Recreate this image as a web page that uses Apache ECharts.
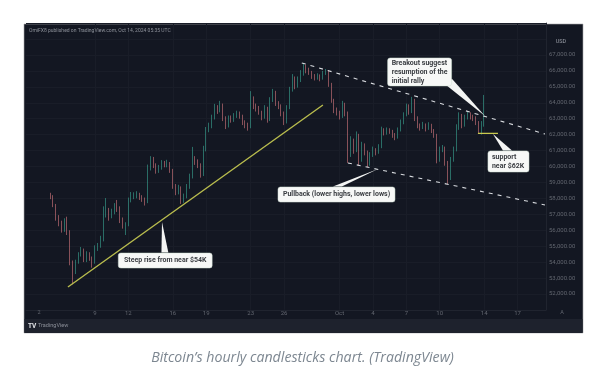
<!DOCTYPE html>
<html>
<head>
<meta charset="utf-8">
<title>Bitcoin hourly candlesticks</title>
<script src="https://cdn.jsdelivr.net/npm/echarts@6/dist/echarts.min.js"></script>
<style>
  html, body { margin: 0; background: #fff; }
  #chart { position: absolute; left: 0; top: 0; width: 605px; height: 381px; filter: blur(0.5px); }
  #caption {
    position: absolute; left: 0; top: 347px; width: 605px; text-align: center;
    font: italic 14.2px "Open Sans", sans-serif; color: #7d8791;
  }
</style>
</head>
<body>
<div id="chart"></div>
<div id="caption">Bitcoin’s hourly candlesticks chart. (TradingView)</div>
<script>
// x axis is in days counted from 1 Sep 2024 (Oct 1 = 31)
const firstCandleDay = 5
const candleStep = 0.25

const closes = [
  58150, 57590, 56770, 56390, 56010, 56520, 55890, 54000, 53380, 54000, 54450, 54760, 54130, 54510, 54260, 54000,
  54880, 55010, 55390, 56950, 57140, 56890, 57140, 57520, 57400, 56640, 56330, 56330, 57900, 58150, 58150, 58280,
  58090, 57960, 57770, 59900, 60530, 60100, 59720, 59910, 60220, 60100, 60220, 59780, 58780, 58400, 58650, 57840,
  58090, 58710, 59340, 60410, 60340, 60100, 59530, 61040, 62290, 62540, 63050, 63670, 63550, 63860, 63050, 62540,
  63050, 62920, 63170, 63300, 63170, 62790, 62600, 62480, 64300, 63800, 63670, 63420, 63110, 63670, 62920, 64180,
  64680, 63990, 63800, 63360, 62790, 63670, 64800, 65550, 65050, 65430, 65810, 66310, 66060, 65930, 65680, 65550,
  65680, 65550, 65870, 65990, 65180, 64180, 63550, 63420, 63170, 63920, 63360, 60720, 61660, 61040, 61980, 60410,
  61350, 60910, 60160, 60720, 61040, 60910, 61220, 62290, 62160, 62290, 62230, 61980, 61850, 62290, 62730, 63230,
  63800, 63420, 64180, 63050, 62600, 62480, 62600, 62420, 62600, 62290, 61980, 60410, 61040, 61160, 60280, 59280,
  60410, 61040, 62420, 63230, 62600, 63050, 63300, 63110, 63050, 62790, 62420, 62600, 63900,
]
const highs = [
  58350, 58200, 57650, 56950, 56600, 56750, 56850, 56000, 54100, 54150, 54620, 54950, 54850, 54680, 54620, 54350,
  55050, 55200, 55650, 57500, 58020, 57400, 57350, 57700, 57900, 57500, 56800, 56500, 58050, 58400, 58380, 58450,
  58350, 58200, 58050, 60120, 60650, 60600, 60200, 60100, 60400, 60350, 60420, 60280, 59850, 58900, 58850, 58750,
  58300, 58900, 59550, 61230, 60650, 60450, 60200, 61300, 62480, 62750, 63250, 63930, 63850, 64120, 63950, 63150,
  63200, 63200, 63350, 63500, 63450, 63250, 62900, 62750, 64730, 64400, 63950, 63800, 63500, 63850, 63750, 64350,
  64870, 64750, 64100, 63900, 63450, 63850, 65000, 65800, 65650, 65650, 66050, 66500, 66400, 66200, 66000, 65800,
  65850, 65780, 66000, 66120, 66050, 65250, 64250, 63700, 63500, 64120, 64000, 63450, 61900, 61750, 62200, 62050,
  61550, 61450, 61000, 60900, 61250, 61150, 61400, 62500, 62400, 62450, 62400, 62300, 62100, 62450, 62950, 63400,
  63950, 63900, 64370, 64250, 63150, 62700, 62800, 62700, 62780, 62680, 62350, 62050, 61250, 61350, 61250, 60350,
  60600, 61250, 62650, 63400, 63300, 63250, 63480, 63400, 63250, 63150, 62850, 62850, 64490,
]
const lows = [
  57950, 57450, 56600, 56250, 55850, 55900, 55700, 53800, 52600, 53250, 53900, 54350, 54000, 54000, 54080, 53650,
  53900, 54700, 54900, 55300, 56800, 56600, 56750, 57000, 57150, 56450, 56100, 55700, 56250, 57750, 57950, 58000,
  57900, 57780, 57550, 57700, 59750, 59900, 59550, 59600, 59800, 59950, 59950, 59600, 58600, 58200, 58250, 57650,
  57720, 58000, 58600, 59250, 60100, 59900, 59300, 59400, 60950, 62150, 62400, 62950, 63300, 63400, 62850, 62350,
  62450, 62750, 62800, 63050, 63000, 62600, 62400, 62250, 62400, 63600, 63450, 63250, 62900, 63000, 62750, 62850,
  64050, 63800, 63600, 63150, 62600, 62700, 63600, 64700, 64850, 64950, 65300, 65700, 65850, 65750, 65500, 65400,
  65450, 65350, 65450, 65750, 65000, 64000, 63350, 63200, 62950, 63050, 63150, 60220, 60600, 60800, 60900, 60050,
  60300, 60700, 59950, 60050, 60600, 60700, 60800, 61150, 61950, 62000, 62050, 61800, 61650, 61750, 62200, 62650,
  63150, 63250, 63350, 62850, 62400, 62250, 62350, 62200, 62300, 62100, 61800, 60200, 60300, 60900, 60050, 58900,
  59150, 60300, 60950, 62300, 62400, 62500, 62950, 62950, 62850, 62600, 62100, 62000, 62500,
]
const openBefore = 58280

const tickDays = [9, 12, 16, 19, 23, 26, 31, 34, 37, 40, 44, 47]
const tickLabels = ['9', '12', '16', '19', '23', '26', 'Oct', '4', '7', '10', '14', '17']

// trend lines, [day, price]
const riseLine = [[6.57, 52440], [29.5, 63860]]
const upperChannel = [[27.6, 66500], [49.47, 62040]]
const lowerChannel = [[31.75, 60220], [49.47, 57585]]
const supportLine = [[43.44, 62085], [45.24, 62085]]

// callouts: box is [day0, price0, day1, price1], pointer is tip, base a, base b
const calloutTexts = ['Steep rise from near $54K', 'Pullback (lower highs, lower lows)', 'Breakout suggest\nresumption of the\ninitial rally', 'support\nnear $62K']
const calloutBoxes = [
  [11.1, 54570, 19.54, 53630],
  [25.46, 58715, 35.98, 57770],
  [35.32, 66810, 41.07, 65055],
  [44.34, 60975, 48.03, 59655],
]
const calloutPointers = [
  [[15.03, 56520], [14.98, 54600], [15.6, 54600]],
  [[34.45, 59845], [30.4, 58740], [31.2, 58740]],
  [[44.07, 63170], [40.6, 65100], [41.1, 65500]],
  [[44.79, 62040], [45.69, 61000], [46.5, 61000]],
]
const calloutAlign = ['center', 'center', 'left', 'left']

const candles = closes.map((c, i) => [
  firstCandleDay + i * candleStep,
  i === 0 ? openBefore : closes[i - 1],
  c,
  lows[i],
  highs[i],
])

const faint = '#191d28'
const axisText = '#62666f'

const chart = echarts.init(document.getElementById('chart'))

function renderCallout(params, api) {
  const i = params.dataIndex
  const b = calloutBoxes[i]
  const p0 = api.coord([b[0], b[1]])
  const p1 = api.coord([b[2], b[3]])
  const left = calloutAlign[i] === 'left'
  const tip = calloutPointers[i].map((pt) => api.coord(pt))
  return {
    type: 'group',
    children: [
      { type: 'polygon', shape: { points: tip }, style: { fill: '#f4f5f4' } },
      {
        type: 'rect',
        shape: { x: p0[0], y: p0[1], width: p1[0] - p0[0], height: p1[1] - p0[1], r: 2.5 },
        style: { fill: '#f7f8f7', stroke: '#cfe0d2', lineWidth: 0.5 },
      },
      {
        type: 'text',
        style: {
          x: left ? p0[0] + 4 : (p0[0] + p1[0]) / 2,
          y: (p0[1] + p1[1]) / 2,
          text: calloutTexts[i],
          align: left ? 'left' : 'center',
          verticalAlign: 'middle',
          font: 'bold 7px Roboto, sans-serif',
          lineHeight: 9,
          fill: '#3a3d42',
        },
      },
    ],
  }
}

chart.setOption({
  animation: false,
  backgroundColor: '#ffffff',
  grid: { left: 26, right: 59, top: 23.1, bottom: 71.1 },
  graphic: [
    { type: 'rect', z: -100, shape: { x: 24, y: 24, width: 559, height: 309 }, style: { fill: '#131722', stroke: '#a8a9ac', lineWidth: 0.6 } },
    { type: 'rect', z: -99, shape: { x: 24.5, y: 319, width: 558, height: 14 }, style: { fill: '#1e222d' } },
    { type: 'text', z: 5, style: { x: 29, y: 31, text: 'OmiFX8 published on TradingView.com, Oct 14, 2024 05:35 UTC', verticalAlign: 'middle', font: '5px Roboto, sans-serif', fill: '#8f939c' } },
    { type: 'text', z: 5, style: { x: 561, y: 42, text: 'USD', align: 'center', verticalAlign: 'middle', font: '5.5px Roboto, sans-serif', fill: '#9a9ea7' } },
    { type: 'text', z: 5, style: { x: 39, y: 313, text: '2', align: 'center', verticalAlign: 'middle', font: '5.5px Roboto, sans-serif', fill: axisText } },
    { type: 'text', z: 5, style: { x: 562, y: 313, text: 'A', align: 'center', verticalAlign: 'middle', font: '5.5px Roboto, sans-serif', fill: axisText } },
    { type: 'text', z: 5, style: { x: 28, y: 326, text: 'TV', verticalAlign: 'middle', font: 'bold 6.5px Roboto, sans-serif', fill: '#e4e6ea' } },
    { type: 'text', z: 5, style: { x: 38, y: 326, text: 'TradingView', verticalAlign: 'middle', font: '5.5px Roboto, sans-serif', fill: '#8b8f98' } },
  ],
  xAxis: {
    type: 'value',
    min: 2.8,
    max: 49.56,
    axisLine: { show: true, onZero: false, lineStyle: { color: '#20242f', width: 1 } },
    axisTick: { show: false, customValues: tickDays },
    axisLabel: {
      customValues: tickDays,
      margin: 1,
      fontSize: 6,
      fontFamily: 'Roboto',
      color: axisText,
      showMinLabel: true,
      showMaxLabel: true,
      formatter: (v) => tickLabels[tickDays.indexOf(v)] || '',
    },
    splitLine: { show: true, lineStyle: { color: faint, width: 1 } },
  },
  yAxis: {
    type: 'value',
    position: 'right',
    min: 51000,
    max: 69000,
    interval: 1000,
    axisLine: { show: true, lineStyle: { color: '#20242f', width: 1 } },
    axisTick: { show: false },
    axisLabel: {
      margin: 3,
      fontSize: 6,
      fontFamily: 'Roboto',
      color: axisText,
      formatter: (v) => (v > 67000 || v < 52000 ? '' : v.toLocaleString('en-US', { minimumFractionDigits: 2 })),
    },
    splitLine: { show: true, lineStyle: { color: faint, width: 1 } },
  },
  series: [
    {
      type: 'candlestick',
      data: candles,
      barWidth: 1.2,
      itemStyle: { color: '#3aa896', color0: '#d9787f', borderColor: '#3aa896', borderColor0: '#d9787f', borderWidth: 0.6 },
      z: 2,
    },
    { type: 'line', data: riseLine, showSymbol: false, lineStyle: { color: '#b9bd4e', width: 1.4 }, z: 3 },
    { type: 'line', data: upperChannel, showSymbol: false, lineStyle: { color: '#d9dce0', width: 1.1, type: [4, 5] }, z: 3 },
    { type: 'line', data: lowerChannel, showSymbol: false, lineStyle: { color: '#d9dce0', width: 1.1, type: [4, 5] }, z: 3 },
    { type: 'line', data: supportLine, showSymbol: false, lineStyle: { color: '#c9c94e', width: 1.3 }, z: 3 },
    { type: 'custom', data: calloutTexts, renderItem: renderCallout, clip: false, silent: true, z: 4 },
  ],
})
</script>
</body>
</html>
